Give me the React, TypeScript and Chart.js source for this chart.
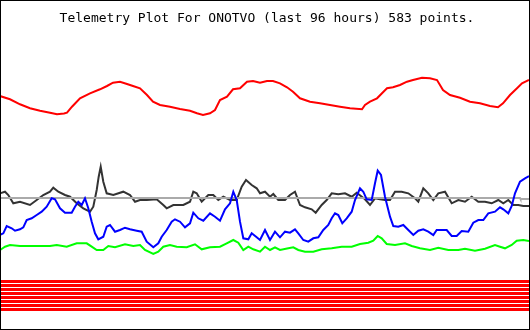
import { useEffect, useRef } from "react";
import { Chart, registerables } from "chart.js";

Chart.register(...registerables);

const TITLE = "Telemetry Plot For ONOTVO (last 96 hours) 583 points.";

// [sample position, level] readings; the level axis runs downward (reversed)
const redTrace: [number, number][] = [
  [0, 96], [10, 99.3], [20, 104.3], [30, 108.3], [40, 110.7], [50, 112.7], [57, 114.3], [64, 113.5],
  [67, 112.7], [72, 106.7], [80, 98.3], [90, 93.3], [100, 89.3], [107, 86], [113, 82.7], [120, 81.7],
  [127, 84], [133, 86], [140, 88.3], [147, 95], [153, 101.7], [160, 105], [170, 106.7], [180, 109],
  [190, 110.7], [197, 113.3], [203, 115], [210, 113.3], [215, 110], [220, 100], [227, 96.7], [233, 89.3],
  [240, 88.3], [247, 81.7], [253, 81], [260, 82.7], [267, 81], [273, 81], [280, 83.3], [287, 87.3],
  [293, 91.7], [300, 98.3], [310, 101.7], [320, 103.3], [330, 105], [340, 106.7], [350, 108.3], [362, 109.3],
  [365, 105], [370, 101.7], [377, 98.3], [382, 93.3], [387, 88.3], [393, 87.3], [400, 85], [407, 81.7],
  [413, 80], [422, 77.7], [430, 78.3], [437, 80], [443, 90], [450, 95], [460, 97.7], [470, 101.7],
  [480, 103.3], [490, 106], [498, 107.3], [503, 103.3], [510, 95], [517, 88.3], [522, 83.3], [529, 80],
];

const blackTrace: [number, number][] = [
  [0, 193.3], [5, 191.7], [8.3, 195], [13.3, 203.3], [20, 201.7], [30, 205], [36.7, 200], [43.3, 195],
  [50, 191.7], [53.3, 187.7], [58.3, 191.7], [65, 195], [70, 196.7], [76.7, 203.3], [83.3, 208.3], [90, 211.7],
  [93.3, 206.7], [96.7, 190], [98.7, 176.7], [100.7, 166.7], [103.3, 181.7], [106.7, 193.3], [113.3, 195],
  [123.3, 191.7], [130, 195], [135, 201.7], [140, 200], [146.7, 200], [156.7, 199.3], [163.3, 205],
  [166.7, 208.3], [173.3, 205], [183.3, 205], [190, 201.7], [193.3, 191.7], [196.7, 193.3], [201.7, 201.7],
  [208.3, 195], [213.3, 195], [218.3, 200], [223.3, 196.7], [230, 200], [236.7, 200], [241.7, 186.7],
  [246, 180], [251.7, 185], [256.7, 188.3], [260, 193.3], [265, 191.7], [270, 196.7], [273.3, 194],
  [278.3, 200], [285, 200], [290, 195], [295, 191.7], [300, 205], [305, 207.3], [311.7, 209.3], [315.7, 212.7],
  [321.7, 205], [326.7, 200], [331.7, 193.3], [338.3, 194.3], [345, 193.3], [351.7, 196.7], [356.7, 192.7],
  [365, 199.3], [370, 205], [375, 198.3], [380, 199.3], [385, 200], [390, 200], [395, 191.7], [401.7, 191.7],
  [408.3, 193.3], [415, 198.3], [418.3, 201.7], [423.3, 188.3], [428.3, 193.3], [433.3, 200], [438.3, 193.3],
  [445, 191.7], [451.7, 203.3], [458.3, 200], [465, 201.7], [471.7, 196.7], [478.3, 201.7], [485, 201.7],
  [491.7, 203.3], [498.3, 200], [503.3, 203.3], [508.3, 200], [513.3, 205], [518.3, 205], [523.3, 206], [529, 206],
];

const blueTrace: [number, number][] = [
  [0, 235], [3.3, 233.3], [6.7, 226], [11.7, 228.3], [15, 230.7], [20, 229.3], [23.3, 227.3], [26.7, 220],
  [31.7, 218.3], [36.7, 215], [41.7, 211.7], [46.7, 206.7], [51.7, 198.3], [55, 199.3], [60, 208.3], [65, 212.7],
  [71.7, 212.7], [75, 206.7], [78.3, 201.7], [81.7, 205], [85, 198.3], [88.3, 208.3], [91.7, 221.7], [95, 233.3],
  [98.3, 239.3], [103.3, 236.7], [106.7, 226.7], [110, 225], [115, 231.7], [120, 230], [125, 227.7], [130, 229.3],
  [136.7, 230.7], [141.7, 231.7], [146.7, 241.7], [153.3, 247.3], [158.3, 243.3], [161.7, 236.7], [166.7, 230],
  [171.7, 221.7], [175, 219.3], [180, 221.7], [185, 227.3], [190, 223.3], [193.3, 212.7], [198.3, 218.3],
  [203.3, 220.7], [210, 213.3], [215, 216.7], [220, 220.7], [225, 209.3], [230, 203.3], [233.3, 191.7], [236.7, 200],
  [240, 221.7], [243.3, 238.3], [248.3, 239.3], [251.7, 233.3], [256.7, 237.3], [260, 240], [265, 230], [270, 240],
  [275, 231.7], [280, 237.3], [285, 231.7], [290, 232.7], [295, 229.3], [298.3, 233.3], [303.3, 240], [308.3, 241.7],
  [313.3, 238.3], [318.3, 237.3], [323.3, 230], [328.3, 225], [331.7, 218.3], [335, 213.3], [338.3, 215],
  [342.3, 223.3], [346.7, 218.3], [351.7, 211.7], [355, 200], [360, 188.3], [363.3, 191.7], [366.7, 199.3],
  [371.7, 200], [375, 183.3], [377.7, 170.7], [381, 175], [385, 196.7], [390, 216.7], [393.3, 226], [398.3, 226.7],
  [403.3, 225], [408.3, 230], [413.3, 235], [418.3, 230.7], [423.3, 229.3], [428.3, 231.7], [433.3, 235],
  [436.7, 230], [441.7, 230], [446.7, 230], [451.7, 236], [456.7, 236], [461.7, 231], [468.3, 231.7], [473.3, 222.7],
  [478.3, 220], [483.3, 220], [488.3, 213.3], [495, 211.7], [500, 207.3], [503.3, 209.3], [508.3, 213.3],
  [511.7, 206], [515, 193.3], [520, 181.7], [525, 178.3], [529, 176],
];

const greenTrace: [number, number][] = [
  [0, 250], [5, 246.7], [10, 245], [20, 246], [33.3, 246], [50, 246], [56.7, 245], [66.7, 246.7], [76.7, 243.3],
  [86.7, 243.3], [91.7, 246.7], [96.7, 250], [103.3, 250], [108.3, 246], [115, 247.3], [125, 244.3], [133.3, 246],
  [140, 245], [145, 250], [153.3, 254], [158.3, 251.7], [163.3, 246.7], [170, 245], [176.7, 246.7], [186.7, 247.3],
  [195, 244.3], [201.7, 249.3], [210, 247.3], [220, 246.7], [226.7, 243.3], [233.3, 240], [238.3, 242.7],
  [243.3, 250], [248.3, 246.7], [253.3, 249.3], [260, 251.7], [265, 246.7], [270, 250], [275, 247.3], [280, 250],
  [288.3, 248.3], [293.3, 247.3], [298.3, 250], [305, 251.7], [313.3, 251.7], [321.7, 249.3], [331.7, 248.3],
  [341.7, 246.7], [351.7, 246.7], [360, 244], [368.3, 242.7], [373.3, 240.7], [377.7, 236], [381.7, 238.3],
  [386.7, 244], [395, 245], [405, 243.3], [411.7, 246], [420, 248.3], [430, 250], [438.3, 247.7], [448.3, 250],
  [458.3, 250], [465, 248.7], [475, 250.7], [485, 248.7], [495, 245], [500, 246.7], [505, 248.3], [511.7, 245],
  [516.7, 240.7], [523.3, 240], [529, 241],
];

const grayTrace: [number, number][] = [
  [0, 198], [520, 198], [520.5, 199], [529, 199],
];

// eight flag channels drawn as flat bands
const stripeLevels = [281.5, 285.5, 289.5, 293.5, 297.5, 301.5, 305.5, 309.5];
const stripeSpan = [0, 529];

const toPoints = (t: [number, number][]) => t.map(([x, y]) => ({ x, y }));

const titlePlugin = {
  id: "plotTitle",
  afterDraw(chart: any) {
    const ctx = chart.ctx as CanvasRenderingContext2D;
    ctx.save();
    ctx.font = '13px "DejaVu Sans Mono", monospace';
    ctx.fillStyle = "#000";
    ctx.textAlign = "center";
    ctx.textBaseline = "alphabetic";
    ctx.fillText(TITLE, 266, 21);
    ctx.restore();
  },
};

export default function App() {
  const ref = useRef<HTMLCanvasElement>(null);
  useEffect(() => {
    document.body.style.margin = "0";
    const line = (data: [number, number][], color: string, width = 2) => ({
      data: toPoints(data),
      borderColor: color,
      backgroundColor: color,
      borderWidth: width,
      pointRadius: 0,
      tension: 0,
      fill: false,
    });
    const stripes = stripeLevels.map((lv) =>
      line(stripeSpan.map((x) => [x, lv] as [number, number]), "#ff0000", 3)
    );
    const chart = new Chart(ref.current!, {
      type: "line",
      data: {
        datasets: [
          line(blueTrace, "#0000ff"),
          line(grayTrace, "#aaaaaa"),
          line(blackTrace, "#333333"),
          line(greenTrace, "#00ff00"),
          line(redTrace, "#ff0000"),
          ...stripes,
        ],
      },
      options: {
        animation: false,
        responsive: false,
        maintainAspectRatio: false,
        layout: { padding: 0 },
        scales: {
          x: { type: "linear", display: false, min: 1, max: 529 },
          y: { type: "linear", display: false, reverse: true, min: 1, max: 329 },
        },
        plugins: {
          legend: { display: false },
          tooltip: { enabled: false },
          title: { display: false },
        },
      },
      plugins: [titlePlugin],
    });
    return () => chart.destroy();
  }, []);
  return (
    <div
      style={{
        position: "absolute",
        left: 0,
        top: 0,
        width: 528,
        height: 328,
        border: "1px solid #000",
        background: "#fff",
      }}
    >
      <canvas ref={ref} width={528} height={328} style={{ display: "block" }} />
    </div>
  );
}
